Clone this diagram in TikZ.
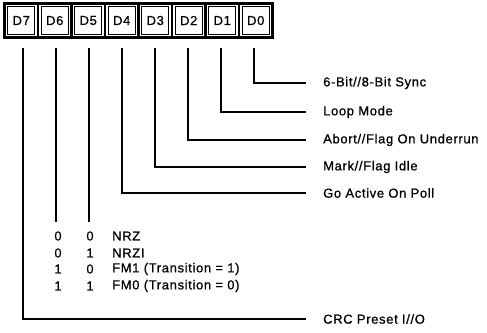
\documentclass[tikz,border=0pt]{standalone}
\usepackage{fontspec}
\setmainfont{Liberation Sans}[LetterSpace=5, FakeBold=0.8]
\begin{document}
\begin{tikzpicture}[x=1pt,y=-1pt,
  txt/.style={inner sep=0pt, font=\fontsize{13}{15}\selectfont},
  cell/.style={txt, draw, line width=0.9pt, minimum width=27pt, minimum height=28pt},
  lbl/.style={txt, anchor=west},
  dig/.style={txt, anchor=center},
  wire/.style={line width=2.8pt},
  frame/.style={line width=2.8pt}]
\useasboundingbox (0,0) rectangle (487,332);
% register frame
\draw[frame] (4.5,3.5) rectangle (272.5,37.5);
\foreach \k in {1,...,7} {
  \draw[frame] ({4.5+33.5*\k},3.5) -- ({4.5+33.5*\k},37.5);
}
% cells
\node[cell] (c7) at (21.25,20.5) {D7};
\node[cell] (c6) at (54.75,20.5) {D6};
\node[cell] (c5) at (88.25,20.5) {D5};
\node[cell] (c4) at (121.75,20.5) {D4};
\node[cell] (c3) at (155.25,20.5) {D3};
\node[cell] (c2) at (188.75,20.5) {D2};
\node[cell] (c1) at (222.25,20.5) {D1};
\node[cell] (c0) at (255.75,20.5) {D0};
% line tops
\coordinate (t7) at (23,48);
\coordinate (t6) at (56,48);
\coordinate (t5) at (89,48);
\coordinate (t4) at (122,48);
\coordinate (t3) at (155,48);
\coordinate (t2) at (188,48);
\coordinate (t1) at (221,48);
\coordinate (t0) at (254,48);
\coordinate (b6) at (56,222);
\coordinate (b5) at (89,222);
% labels
\node[lbl] (l0) at (323,83) {6-Bit//8-Bit Sync};
\node[lbl] (l1) at (323,112) {Loop Mode};
\node[lbl] (l2) at (323,140) {Abort//Flag On Underrun};
\node[lbl] (l3) at (323,167) {Mark//Flag Idle};
\node[lbl] (l4) at (323,193) {Go Active On Poll};
\node[lbl] (l7) at (323,319) {CRC Preset I//O};
% connectors
\draw[wire] (t0) |- ([xshift=-17pt]l0.west);
\draw[wire] (t1) |- ([xshift=-17pt]l1.west);
\draw[wire] (t2) |- ([xshift=-17pt]l2.west);
\draw[wire] (t3) |- ([xshift=-17pt]l3.west);
\draw[wire] (t4) |- ([xshift=-17pt]l4.west);
\draw[wire] (t7) |- ([xshift=-17pt]l7.west);
\draw[wire] (t6) -- (b6);
\draw[wire] (t5) -- (b5);
% encoding table
\node[dig] (r1a) at (58,236) {0};
\node[dig] (r1b) at (90,236) {0};
\node[lbl] (r1c) at (112,236) {NRZ};
\node[dig] (r2a) at (58,253) {0};
\node[dig] (r2b) at (90,253) {1};
\node[lbl] (r2c) at (112,253) {NRZI};
\node[dig] (r3a) at (58,269) {1};
\node[dig] (r3b) at (90,269) {0};
\node[lbl] (r3c) at (112,269) {FM1 (Transition = 1)};
\node[dig] (r4a) at (58,286) {1};
\node[dig] (r4b) at (90,286) {1};
\node[lbl] (r4c) at (112,286) {FM0 (Transition = 0)};
\end{tikzpicture}
\end{document}
